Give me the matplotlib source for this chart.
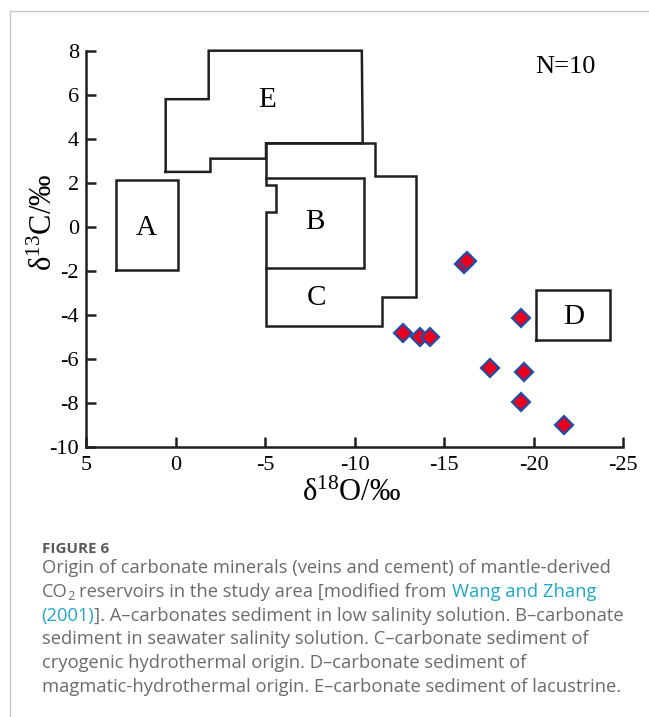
import matplotlib
matplotlib.use("Agg")
import matplotlib.pyplot as plt
from matplotlib.lines import Line2D

plt.rcParams["font.family"] = ["Liberation Serif", "DejaVu Serif"]
plt.rcParams["mathtext.fontset"] = "custom"
plt.rcParams["mathtext.rm"] = "Liberation Serif"
plt.rcParams["mathtext.it"] = "Liberation Serif:italic"
plt.rcParams["axes.unicode_minus"] = False

# measured samples (d18O, d13C), N=10
d18o = [-16.12, -16.27, -12.7, -13.65, -14.2, -19.3, -17.55, -19.45, -19.3, -21.7]
d13c = [-1.66, -1.56, -4.8, -5.0, -5.0, -4.15, -6.4, -6.6, -7.95, -9.0]

# origin fields (outlines)
field_a_x = [3.3, -0.15, -0.15, 3.3, 3.3]
field_a_y = [-1.95, -1.95, 2.15, 2.15, -1.95]
field_e_x = [0.55, 0.55, -1.85, -1.85, -10.4, -10.45, -5.05, -5.05, -1.95, -1.95, 0.55]
field_e_y = [2.5, 5.8, 5.8, 8.0, 8.0, 3.8, 3.8, 3.1, 3.1, 2.5, 2.5]
field_c_x = [-5.05, -11.15, -11.15, -13.45, -13.45, -11.5, -11.5, -5.05, -5.05, -5.6, -5.6, -5.05, -5.05]
field_c_y = [3.8, 3.8, 2.3, 2.3, -3.2, -3.2, -4.5, -4.5, 0.7, 0.7, 1.9, 1.9, 3.8]
field_b_x = [-5.05, -10.5, -10.5, -5.05]
field_b_y = [2.2, 2.2, -1.85, -1.85]
field_d_x = [-20.15, -24.25, -24.25, -20.15, -20.15]
field_d_y = [-5.15, -5.15, -2.85, -2.85, -5.15]

xticks = [5, 0, -5, -10, -15, -20, -25]
yticks = [8, 6, 4, 2, 0, -2, -4, -6, -8, -10]

line_col = "#231f20"

fig = plt.figure(figsize=(6.49, 7.17), dpi=100)
ax = fig.add_axes([0.1325, 0.3761, 0.8279, 0.5532])

for fx, fy in [(field_a_x, field_a_y), (field_e_x, field_e_y), (field_c_x, field_c_y),
               (field_b_x, field_b_y), (field_d_x, field_d_y)]:
    ax.plot(fx, fy, color=line_col, lw=1.8, solid_joinstyle="miter", clip_on=False)

ax.plot(d18o, d13c, linestyle="none", marker="D", ms=9.5, mfc="#e8001c",
        mec="#1f4ea8", mew=1.6, clip_on=False, zorder=5)

ax.text(1.61, -0.03, "A", fontsize=21, ha="center", va="center")
ax.text(-7.79, 0.24, "B", fontsize=21, ha="center", va="center")
ax.text(-7.89, -3.24, "C", fontsize=21, ha="center", va="center")
ax.text(-22.22, -4.07, "D", fontsize=21, ha="center", va="center")
ax.text(-5.09, 5.76, "E", fontsize=21, ha="center", va="center")
ax.text(-21.76, 7.27, "N=10", fontsize=19, ha="center", va="center")

ax.set_xlim(5, -25)
ax.set_ylim(-10, 8)
ax.set_xticks(xticks)
ax.set_yticks(yticks)
ax.spines["top"].set_visible(False)
ax.spines["right"].set_visible(False)
for s in ["left", "bottom"]:
    ax.spines[s].set_linewidth(1.8)
    ax.spines[s].set_color(line_col)
ax.tick_params(direction="in", length=7, width=1.8, color=line_col, labelsize=16)
ax.tick_params(axis="x", pad=6)
ax.tick_params(axis="y", pad=5)

ax.set_xlabel("δ$^{18}$O/‰", fontsize=22, va="center")
ax.xaxis.set_label_coords(0.495, -0.115)
ax.set_ylabel("δ$^{13}$C/‰", fontsize=22, va="center")
ax.yaxis.set_label_coords(-0.077, 0.568)

# page frame
fig.add_artist(Line2D([10 / 649, 1], [1 - 11 / 717] * 2, color="#c8c8c8", lw=1))
fig.add_artist(Line2D([10 / 649] * 2, [0, 1 - 11 / 717], color="#c8c8c8", lw=1))

# caption
cap_font = ["Open Sans", "DejaVu Sans"]
gray = "#6b6b6b"
teal = "#1ea8c6"
renderer = fig.canvas.get_renderer()

line1 = "Origin of carbonate minerals (veins and cement) of mantle-derived"
probe = fig.text(0, 0, line1, family=cap_font, fontsize=12)
size = 12 * 567 / probe.get_window_extent(renderer).width
probe.remove()


def width(txt, fs):
    t = fig.text(0, 0, txt, family=cap_font, fontsize=fs)
    w = t.get_window_extent(renderer).width
    t.remove()
    return w


space = width("x x", size) - width("xx", size)


def runs(y_px, pieces):
    x = 41.5
    for txt, col, gap, scale, dy in pieces:
        x += gap * space
        fs = size * scale
        fig.text(x / 649, 1 - (y_px + dy) / 717, txt, family=cap_font, fontsize=fs,
                 color=col, va="baseline", ha="left")
        x += width(txt, fs)


fig.text(41.5 / 649, 1 - 553 / 717, "FIGURE 6", family=cap_font, fontsize=11,
         weight="bold", color="#5a5a5a", va="baseline")
base = 573.3
step = 23.7
runs(base, [(line1, gray, 0, 1, 0)])
runs(base + step, [("CO", gray, 0, 1, 0), ("2", gray, 0, 0.7, 3.5),
                   ("reservoirs in the study area [modified from", gray, 1, 1, 0),
                   ("Wang and Zhang", teal, 1, 1, 0)])
runs(base + 2 * step, [("(2001)", teal, 0, 1, 0),
                       ("]. A–carbonates sediment in low salinity solution. B–carbonate", gray, 0, 1, 0)])
runs(base + 3 * step, [("sediment in seawater salinity solution. C–carbonate sediment of", gray, 0, 1, 0)])
runs(base + 4 * step, [("cryogenic hydrothermal origin. D–carbonate sediment of", gray, 0, 1, 0)])
runs(base + 5 * step, [("magmatic-hydrothermal origin. E–carbonate sediment of lacustrine.", gray, 0, 1, 0)])

fig.savefig("out.png", dpi=100)
